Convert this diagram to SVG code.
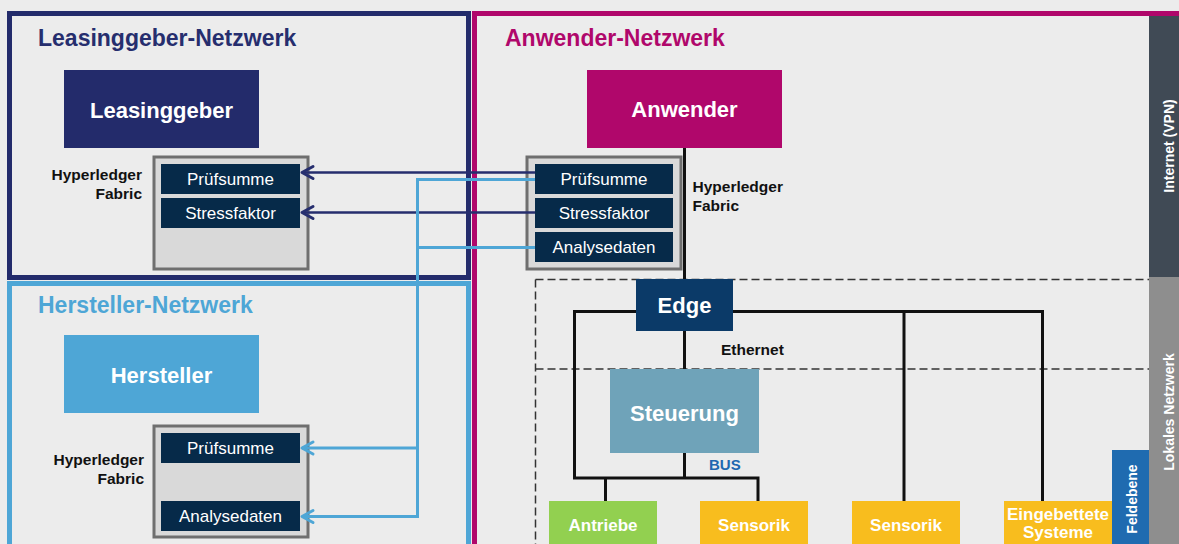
<svg xmlns="http://www.w3.org/2000/svg" width="1179" height="544" viewBox="0 0 1179 544">
<style>
text{font-family:"Liberation Sans",Arial,sans-serif}
.title{font-size:23px;font-weight:bold}
.big{font-size:22px;font-weight:bold;fill:#fff;text-anchor:middle}
.item{font-size:17px;fill:#fff;text-anchor:middle}
.lbl{font-size:15.5px;font-weight:bold;fill:#111}
.fld{font-size:17px;font-weight:bold;fill:#fff;text-anchor:middle}
.side{font-size:14px;font-weight:bold;fill:#fff;text-anchor:middle}
.grp{fill:#d9d9d9;stroke:#6f6f6f;stroke-width:3}
.itm{fill:#062a49}
.blk{fill:none;stroke:#111;stroke-width:3}
.dash{fill:none;stroke:#333;stroke-width:1.5;stroke-dasharray:8 4}
.navy{fill:none;stroke:#262e6e;stroke-width:2.5}
.lblue{fill:none;stroke:#4ea6d6;stroke-width:3}
</style>
<defs>
<marker id="arrN" markerUnits="userSpaceOnUse" viewBox="-13 -8 15 16" markerWidth="15" markerHeight="16" refX="0" refY="0" orient="auto" overflow="visible">
<path d="M-11,-6 L0,0 L-11,6" fill="none" stroke="#262e6e" stroke-width="3" stroke-linecap="round" stroke-linejoin="round"/>
</marker>
<marker id="arrB" markerUnits="userSpaceOnUse" viewBox="-13 -8 15 16" markerWidth="15" markerHeight="16" refX="0" refY="0" orient="auto" overflow="visible">
<path d="M-11,-6 L0,0 L-11,6" fill="none" stroke="#4ea6d6" stroke-width="3" stroke-linecap="round" stroke-linejoin="round"/>
</marker>
</defs>
<rect x="0" y="0" width="1179" height="544" fill="#ececec"/>

<g id="anwender-netzwerk">
<rect x="474.5" y="13.5" width="720" height="560" fill="#ececec" stroke="#b0076b" stroke-width="5"/>
<rect x="1149" y="16" width="30" height="261" fill="#404a55"/>
<rect x="1149" y="277" width="30" height="267" fill="#8e8e8e"/>
<text class="side" transform="translate(1174,146) rotate(-90)">Internet (VPN)</text>
<text class="side" transform="translate(1174,412) rotate(-90)">Lokales Netzwerk</text>
<text class="title" x="505" y="46" fill="#b0076b">Anwender-Netzwerk</text>
</g>

<g id="leasinggeber-netzwerk">
<rect x="9.5" y="13.5" width="459" height="264" fill="#ececec" stroke="#232b6b" stroke-width="5"/>
<text class="title" x="38" y="46" fill="#262e6e">Leasinggeber-Netzwerk</text>
</g>

<g id="hersteller-netzwerk">
<rect x="9.5" y="283.5" width="459" height="300" fill="#ececec" stroke="#4ea6d6" stroke-width="5"/>
<text class="title" x="38" y="313" fill="#4ea6d6">Hersteller-Netzwerk</text>
</g>

<g id="dashed">
<path class="dash" d="M535.5,279.5 H1149 M535.5,369 H1149 M535.5,279.5 V544"/>
</g>

<g id="leasinggeber">
<rect x="64" y="70" width="195" height="78" fill="#232b6b"/>
<text class="big" x="161.5" y="118">Leasinggeber</text>
</g>
<g id="fabric-leasinggeber">
<rect class="grp" x="154" y="157" width="154" height="112"/>
<rect class="itm" x="161" y="164" width="139" height="30"/>
<rect class="itm" x="161" y="198" width="139" height="30"/>
<text class="item" x="230.5" y="185">Prüfsumme</text>
<text class="item" x="230.5" y="219">Stressfaktor</text>
<text class="lbl" x="142" y="180" text-anchor="end">Hyperledger</text>
<text class="lbl" x="142" y="199" text-anchor="end">Fabric</text>
</g>

<g id="hersteller">
<rect x="64" y="335" width="195" height="78" fill="#4ea6d6"/>
<text class="big" x="161.5" y="383">Hersteller</text>
</g>
<g id="fabric-hersteller">
<rect class="grp" x="154" y="426" width="154" height="111"/>
<rect class="itm" x="161" y="433" width="139" height="30"/>
<rect class="itm" x="161" y="501" width="139" height="30"/>
<text class="item" x="230.5" y="454">Prüfsumme</text>
<text class="item" x="230.5" y="522">Analysedaten</text>
<text class="lbl" x="144" y="465" text-anchor="end">Hyperledger</text>
<text class="lbl" x="144" y="484" text-anchor="end">Fabric</text>
</g>

<g id="anwender">
<rect x="587" y="70" width="195" height="78" fill="#b0076b"/>
<text class="big" x="684.5" y="117">Anwender</text>
</g>
<g id="fabric-anwender">
<rect class="grp" x="527" y="157" width="154" height="112"/>
<rect class="itm" x="535" y="164" width="138" height="30"/>
<rect class="itm" x="535" y="198" width="138" height="30"/>
<rect class="itm" x="535" y="232" width="138" height="30"/>
<text class="item" x="604" y="185">Prüfsumme</text>
<text class="item" x="604" y="219">Stressfaktor</text>
<text class="item" x="604" y="253">Analysedaten</text>
<text class="lbl" x="692.5" y="192">Hyperledger</text>
<text class="lbl" x="692.5" y="211">Fabric</text>
</g>

<g id="connectors">
<path class="navy" d="M535,172.5 H302" marker-end="url(#arrN)"/>
<path class="navy" d="M535,212.5 H302" marker-end="url(#arrN)"/>
<path class="lblue" d="M535,179.5 H417.5 V516.5 H302" marker-end="url(#arrB)"/>
<path class="lblue" d="M417.5,448 H302" marker-end="url(#arrB)"/>
<path class="lblue" d="M535,247.5 H417.5"/>
<path class="blk" d="M684.5,148 V279"/>
<path class="blk" d="M684.5,331 V369"/>
<path class="blk" d="M636,311.5 H574.5 V478 H758 V501 M605.5,478 V501 M684.5,453 V478"/>
<path class="blk" d="M733,311.5 H1042.5 V501 M904,311.5 V501"/>
</g>

<g id="edge">
<rect x="636" y="279" width="97" height="52" fill="#0b3a68"/>
<text class="big" x="684.5" y="313">Edge</text>
</g>
<text class="lbl" x="721" y="355">Ethernet</text>

<g id="steuerung">
<rect x="610" y="369" width="149" height="84" fill="#6fa3b9"/>
<text class="big" x="684.5" y="421">Steuerung</text>
</g>
<text x="709" y="469.5" font-size="15" font-weight="bold" fill="#2068b0">BUS</text>

<g id="antriebe">
<rect x="549" y="501" width="108" height="50" fill="#92d050"/>
<text class="fld" x="603" y="531">Antriebe</text>
</g>
<g id="sensorik1">
<rect x="700" y="501" width="108" height="50" fill="#f8bd1e"/>
<text class="fld" x="754" y="531">Sensorik</text>
</g>
<g id="sensorik2">
<rect x="852" y="501" width="108" height="50" fill="#f8bd1e"/>
<text class="fld" x="906" y="531">Sensorik</text>
</g>
<g id="eingebettete">
<rect x="1004" y="501" width="108" height="50" fill="#f8bd1e"/>
<text class="fld" x="1058" y="519.5" font-size="13">Eingebettete</text>
<text class="fld" x="1058" y="538" font-size="13">Systeme</text>
</g>
<g id="feldebene">
<rect x="1112" y="450" width="37" height="94" fill="#1f6bb0"/>
<text class="side" transform="translate(1136.5,499) rotate(-90)">Feldebene</text>
</g>
</svg>
